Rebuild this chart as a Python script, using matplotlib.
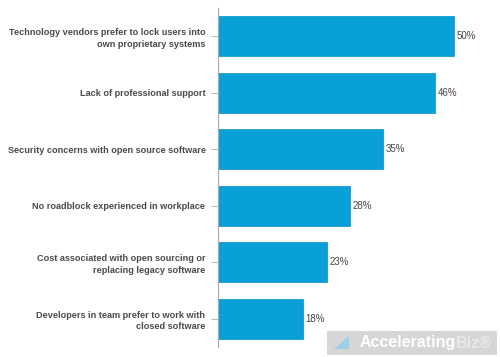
import matplotlib
matplotlib.use("Agg")
import matplotlib.pyplot as plt
from matplotlib.patches import Rectangle, Polygon

categories = [
    "Technology vendors prefer to lock users into\nown proprietary systems",
    "Lack of professional support",
    "Security concerns with open source software",
    "No roadblock experienced in workplace",
    "Cost associated with open sourcing or\nreplacing legacy software",
    "Developers in team prefer to work with\nclosed software",
]
values = [50, 46, 35, 28, 23, 18]
value_labels = ["50%", "46%", "35%", "28%", "23%", "18%"]

plt.rcParams['font.family'] = ['Liberation Sans', 'DejaVu Sans']

fig = plt.figure(figsize=(5.0, 3.57), dpi=100)
ax = fig.add_axes([218/500, 1 - 347/357, 1 - 218/500, 339/357])

bar_color = "#099fd7"
y = list(range(len(categories)))
ax.barh(y, values, height=0.71, color=bar_color, edgecolor="#1a9ad0", linewidth=0.6)
ax.set_ylim(len(categories) - 0.5, -0.5)
ax.set_xlim(0, 59.75)

ax.set_yticks(y)
ax.set_yticklabels(categories, fontsize=6.6, fontweight='bold', color="#4a4a4a",
                   linespacing=1.35, ha='right')
ax.tick_params(axis='y', length=5, width=0.6, color="#aaaaaa", pad=4)
ax.tick_params(axis='x', bottom=False, labelbottom=False)
for s in ['top', 'right', 'bottom']:
    ax.spines[s].set_visible(False)
ax.spines['left'].set_color("#aaaaaa")
ax.spines['left'].set_linewidth(0.8)

for yi, v, lab in zip(y, values, value_labels):
    ax.text(v + 0.6, yi, lab, va='center', ha='left', fontsize=7,
            color="#444444")

# watermark
fig.patches.append(Rectangle((327/500, 1 - 355/357), 170/500, 24/357,
                             transform=fig.transFigure, facecolor="#cfcfcf",
                             edgecolor='none', alpha=0.85, zorder=5))
fig.patches.append(Polygon([(334/500, 1 - 349/357), (349/500, 1 - 349/357),
                            (349/500, 1 - 336/357)], closed=True,
                           transform=fig.transFigure, facecolor="#9ecfe6",
                           edgecolor='none', zorder=6))
t1 = fig.text(360/500, 1 - 343/357, "Accelerating", ha='left', va='center',
              fontsize=11.5, fontweight='bold', color="white", zorder=6)
fig.canvas.draw()
bb = t1.get_window_extent()
fig.text(bb.x1 / 500, 1 - 343/357, "Biz®", ha='left', va='center',
         fontsize=11.5, fontweight='bold', color="#e8e8e8", zorder=6)

fig.savefig("out.png", dpi=100)
